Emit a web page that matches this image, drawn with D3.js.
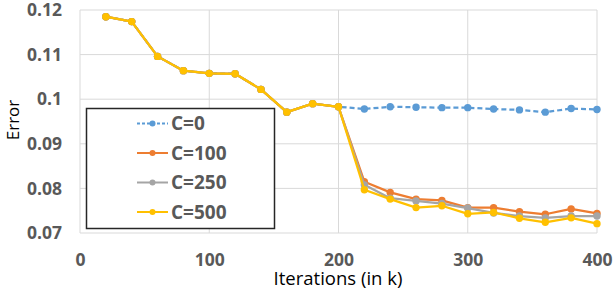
<!DOCTYPE html>
<html>
<head>
<meta charset="utf-8">
<script src="https://cdn.jsdelivr.net/npm/d3@7"></script>
<style>
  body { margin: 0; background: #fff; }
  text { font-family: "Open Sans", "Lato", sans-serif; }
</style>
</head>
<body>
<script>
const width = 615;
const height = 295;

// iterations (in k)
const iterations = [20, 40, 60, 80, 100, 120, 140, 160, 180, 200, 220, 240, 260, 280, 300, 320, 340, 360, 380, 400];

// shared first half (all series overlap up to 200k)
const head = [0.1185, 0.1174, 0.1096, 0.1064, 0.1058, 0.1057, 0.1022, 0.0971, 0.0990, 0.0983];

const c0   = head.concat([0.0978, 0.0983, 0.0982, 0.0981, 0.0981, 0.0978, 0.0976, 0.0971, 0.0979, 0.0977]);
const c100 = head.concat([0.0815, 0.0791, 0.0776, 0.0773, 0.0757, 0.0757, 0.0748, 0.0742, 0.0754, 0.0744]);
const c250 = head.concat([0.0808, 0.0778, 0.0772, 0.0766, 0.0756, 0.0745, 0.0738, 0.0734, 0.0738, 0.0738]);
const c500 = head.concat([0.0797, 0.0776, 0.0757, 0.0761, 0.0743, 0.0746, 0.0733, 0.0724, 0.0734, 0.0721]);

const seriesNames = ["C=0", "C=100", "C=250", "C=500"];
const seriesValues = [c0, c100, c250, c500];
const colors = ["#5B9BD5", "#ED7D31", "#A5A5A5", "#FFC000"];

const xTicks = [0, 100, 200, 300, 400];
const yTicks = [0.07, 0.08, 0.09, 0.10, 0.11, 0.12];
const yTickLabels = ["0.07", "0.08", "0.09", "0.1", "0.11", "0.12"];

const margin = {top: 10, right: 18, bottom: 62, left: 80};

const x = d3.scaleLinear()
    .domain([0, 400])
    .range([margin.left, width - margin.right]);

const y = d3.scaleLinear()
    .domain([0.07, 0.12])
    .range([height - margin.bottom, margin.top]);

const svg = d3.select('body').append('svg')
    .attr('width', width)
    .attr('height', height);

// gridlines
svg.append('g')
    .selectAll('line')
    .data(yTicks)
    .enter().append('line')
    .attr('x1', x(0)).attr('x2', x(400))
    .attr('y1', d => y(d)).attr('y2', d => y(d))
    .attr('stroke', '#D9D9D9')
    .attr('stroke-width', 1);

svg.append('g')
    .selectAll('line')
    .data(xTicks)
    .enter().append('line')
    .attr('x1', d => x(d)).attr('x2', d => x(d))
    .attr('y1', y(0.07)).attr('y2', y(0.12))
    .attr('stroke', '#D9D9D9')
    .attr('stroke-width', 1);

// axes (labels only, Excel style)
const yAxis = svg.append('g')
    .attr('transform', `translate(${margin.left},0)`)
    .call(d3.axisLeft(y).tickValues(yTicks).tickSize(0).tickPadding(18)
        .tickFormat((d, i) => yTickLabels[i]));
yAxis.select('.domain').remove();
yAxis.selectAll('text')
    .attr('font-size', 17.5)
    .attr('font-weight', 'bold')
    .attr('fill', '#595959');

const xAxis = svg.append('g')
    .attr('transform', `translate(0,${y(0.07)})`)
    .call(d3.axisBottom(x).tickValues(xTicks).tickSize(0).tickPadding(21)
        .tickFormat(d3.format('d')));
xAxis.select('.domain').remove();
xAxis.selectAll('text')
    .attr('font-size', 17.5)
    .attr('font-weight', 'bold')
    .attr('fill', '#595959');

// axis titles
svg.append('text')
    .attr('x', 338)
    .attr('y', 285)
    .attr('text-anchor', 'middle')
    .attr('font-size', 18.5)
    .attr('fill', '#000')
    .text('Iterations (in k)');

svg.append('text')
    .attr('transform', 'translate(19,120) rotate(-90)')
    .attr('text-anchor', 'middle')
    .attr('font-size', 17)
    .attr('fill', '#000')
    .text('Error');

// lines
const line = d3.line()
    .x((d, i) => x(iterations[i]))
    .y(d => y(d));

seriesValues.forEach((vals, s) => {
    const g = svg.append('g');
    g.append('path')
        .datum(vals)
        .attr('fill', 'none')
        .attr('stroke', colors[s])
        .attr('stroke-width', 2.25)
        .attr('stroke-linejoin', 'round')
        .attr('stroke-dasharray', s === 0 ? '5,3' : null)
        .attr('d', line);
    g.selectAll('circle')
        .data(vals)
        .enter().append('circle')
        .attr('cx', (d, i) => x(iterations[i]))
        .attr('cy', d => y(d))
        .attr('r', 3.7)
        .attr('fill', colors[s]);
});

// legend
const legend = svg.append('g');
legend.append('rect')
    .attr('x', 86.5).attr('y', 108.5)
    .attr('width', 188).attr('height', 120)
    .attr('fill', '#fff')
    .attr('stroke', '#262626')
    .attr('stroke-width', 1.5);

const rowY = [123.5, 153, 182.5, 212];
seriesNames.forEach((name, s) => {
    const row = legend.append('g').attr('transform', `translate(0,${rowY[s]})`);
    row.append('line')
        .attr('x1', 137).attr('x2', 168)
        .attr('stroke', colors[s])
        .attr('stroke-width', 2)
        .attr('stroke-dasharray', s === 0 ? '3,2' : null);
    row.append('circle')
        .attr('cx', 152.5).attr('r', 3)
        .attr('fill', colors[s]);
    row.append('text')
        .attr('x', 171)
        .attr('y', 6.5)
        .attr('font-size', 19)
        .attr('font-weight', 'bold')
        .attr('fill', '#595959')
        .text(name);
});
</script>
</body>
</html>
